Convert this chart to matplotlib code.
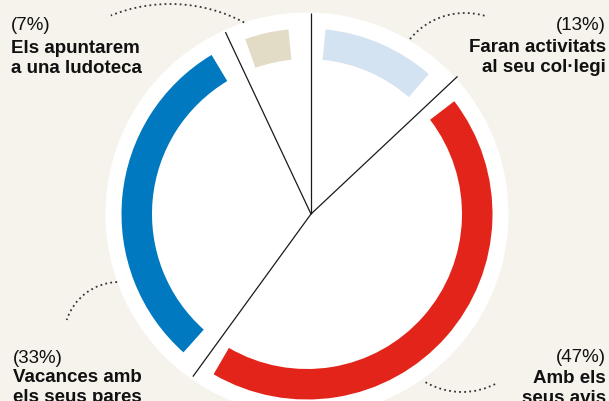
import numpy as np
import matplotlib
matplotlib.use("Agg")
import matplotlib.pyplot as plt
from matplotlib.patches import Circle, Arc

# data, clockwise from 12 o'clock
shares = [13, 47, 33, 7]
colors = ["#d4e3f1", "#e3241b", "#0079c1", "#e2dcc6"]
pcts = ["(13%)", "(47%)", "(33%)", "(7%)"]
labels = [["Faran activitats", "al seu col·legi"],
          ["Amb els", "seus avis"],
          ["Vacances amb", "els seus pares"],
          ["Els apuntarem", "a una ludoteca"]]

bg = "#f6f3ec"
W, H = 609, 402
cx, cy = 307, 187       # circle centre (pixels, y up)
hx, hy = 311, 187       # where the divider lines meet
pad = 1.6               # gap at each end of an arc, in percent

plt.rcParams['font.family'] = ['Liberation Sans', 'DejaVu Sans']

fig = plt.figure(figsize=(W / 100, H / 100), dpi=100, facecolor=bg)
ax = fig.add_axes([0, 0, 1, 1])
ax.set_facecolor(bg)

# white disc
ax.add_patch(Circle((cx, cy), 201.5, facecolor="white", edgecolor="none", zorder=1))

# coloured rings, with see-through padding slices around each one
sizes, cols = [], []
for v, c in zip(shares, colors):
	sizes += [pad, v - 2 * pad, pad]
	cols += ["none", c, "none"]
wedges, _ = ax.pie(sizes, colors=cols, startangle=90, counterclock=False,
                   radius=185.5, center=(cx, cy), frame=True,
                   wedgeprops=dict(width=30.5, linewidth=0))
for w in wedges:
	w.set_zorder(2)

# divider lines
cum = np.concatenate([[0], np.cumsum(shares)[:-1]])
for c in cum:
	a = np.radians(90 - 360 * c / 100)
	ax.plot([hx, hx + 201 * np.cos(a)], [hy, hy + 201 * np.sin(a)],
	        color="#1a1a1a", lw=0.9, zorder=3, solid_capstyle="butt")

# dotted leader arcs
dots = dict(color="#333333", lw=1.3, linestyle=(0, (1, 1.8)), zorder=1)
ax.add_patch(Arc((170, 239), 316, 316, theta1=62, theta2=112, **dots))
ax.add_patch(Arc((465, 317), 142, 142, theta1=74, theta2=141, **dots))
ax.add_patch(Arc((119, 64), 110, 110, theta1=92, theta2=162, **dots))
ax.add_patch(Arc((462, 82), 146, 146, theta1=240, theta2=299, **dots))

# labels: (x, pct baseline, first bold baseline, ha)
spots = [(606, 30, 52, "right"), (606, 362, 383, "right"),
         (13, 363, 382, "left"), (11, 30, 53, "left")]
txt = dict(fontsize=13.5, color="#111111", va="baseline")
for (x, yp, yb, ha), p, lab in zip(spots, pcts, labels):
	ax.text(x, H - yp, p, ha=ha, **txt)
	ax.text(x, H - yb, lab[0], ha=ha, fontweight="bold", **txt)
	ax.text(x, H - yb - 20, lab[1], ha=ha, fontweight="bold", **txt)

ax.set_xlim(0, W)
ax.set_ylim(0, H)
ax.set_aspect("equal")
ax.axis("off")

fig.savefig("out.png", dpi=100, facecolor=bg)
